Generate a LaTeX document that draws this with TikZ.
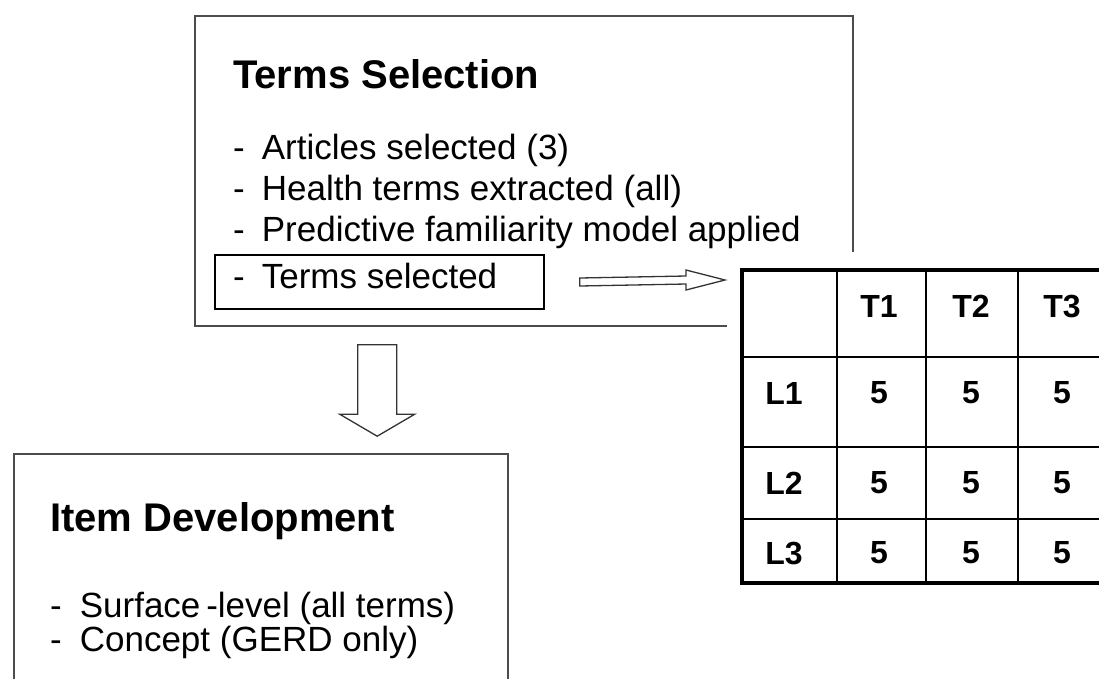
\documentclass[tikz,border=0pt]{standalone}
\usepackage{fontspec}
\setmainfont{Liberation Sans}
\usetikzlibrary{calc, positioning}

\begin{document}
\begin{tikzpicture}[x=1pt, y=-1pt,
  panel/.style={draw=black!70, line width=1.6pt, fill=white, inner sep=0pt},
  heading/.style={anchor=base west, inner sep=0pt, font=\bfseries\fontsize{40}{46}\selectfont},
  entry/.style={anchor=base west, inner sep=0pt, font=\fontsize{35}{40}\selectfont},
  cell/.style={inner sep=0pt, font=\bfseries\fontsize{32}{36}\selectfont},
  hollow/.style={draw=black!80, line width=1.3pt, fill=white}]
  \clip (0,0) rectangle (1099,678);
  \fill [white] (0,0) rectangle (1099,678);

  % terms selection
  \node (tsbox) [panel, minimum width=658pt, minimum height=310pt] at (524,171) {};
  \node (tstitle) [heading] at (233,88) {Terms Selection};
  \node (art) [entry] at (233,159) {-\hspace{17pt}Articles selected (3)};
  \node (hlth) [entry] at (233,200) {-\hspace{17pt}Health terms extracted (all)};
  \node (pred) [entry] at (233,241) {-\hspace{17pt}Predictive familiarity model applied};
  \node (selbox) [draw, line width=1.5pt, minimum width=329pt, minimum height=54pt, inner sep=0pt] at (379.5,282) {};
  \node (terms) [entry] at (233,288) {-\hspace{17pt}Terms selected};

  % table
  \fill [white] (727,252) rectangle (1110,600);
  \node (tbl) [draw, line width=4pt, minimum width=368pt, minimum height=313pt, inner sep=0pt] at (926,426.5) {};
  \draw [line width=2pt] (837,270) -- (837,583) (1018,270) -- (1018,583);
  \draw [line width=2.8pt] (926,270) -- (926,583);
  \draw [line width=2pt] (742,357) -- (1110,357) (742,519) -- (1110,519);
  \draw [line width=2.8pt] (742,447) -- (1110,447);
  \node (h1) [cell] at (879,306) {T1};
  \node (h2) [cell] at (971,306) {T2};
  \node (h3) [cell] at (1062,306) {T3};
  \foreach \r/\y in {1/393, 2/483, 3/553} {
    \node (l\r) [cell] at (784,\y) {L\r};
    \foreach \c/\x in {1/879, 2/971, 3/1062}
      \node (v\r\c) [cell] at (\x,\y) {5};
  }

  % item development
  \node (itembox) [panel, minimum width=494pt, minimum height=246pt] at (261,577) {};
  \node (ittitle) [heading] at (50,531) {Item Development};
  \node (surf) [entry] at (50,617) {-\hspace{18pt}Surface\,-level (all terms)};
  \node (conc) [entry] at (50,651) {-\hspace{18pt}Concept (GERD only)};

  % hollow arrows
  \coordinate (hstart) at ($(selbox.east)+(35,0)$);
  \coordinate (htip) at ($(tbl.north west)+(-15,12)$);
  \draw [hollow] ($(hstart)+(0,-4)$) -- ($(htip)+(-39,-4)$) -- ($(htip)+(-39,-10)$) -- (htip)
    -- ($(htip)+(-39,10)$) -- ($(htip)+(-39,4)$) -- ($(hstart)+(0,4)$) -- cycle;
  \coordinate (vtop) at ($(tsbox.south west)+(183,18)$);
  \coordinate (vtip) at ($(itembox.north west)+(364,-17)$);
  \draw [hollow] ($(vtop)+(-19.5,0)$) -- ($(vtop)+(19.5,0)$) -- ($(vtip)+(19.5,-22)$) -- ($(vtip)+(37.5,-22)$)
    -- (vtip) -- ($(vtip)+(-37.5,-22)$) -- ($(vtip)+(-19.5,-22)$) -- cycle;
\end{tikzpicture}
\end{document}
